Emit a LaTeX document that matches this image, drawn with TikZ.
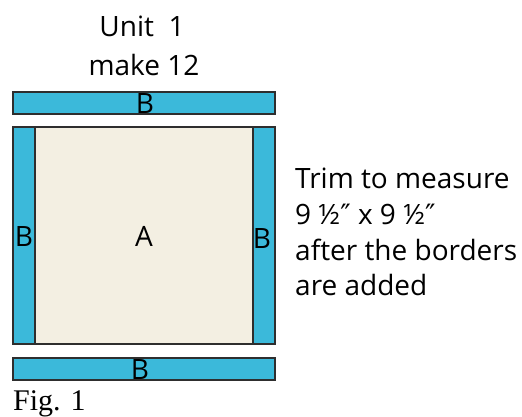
\documentclass[tikz,border=0pt]{standalone}
\usepackage{fontspec}
\setmainfont{Liberation Serif}
\newfontfamily\labfont{Open Sans}
\newfontfamily\symfont{DejaVu Sans}
\newcommand{\inchmark}{{\symfont\fontsize{28}{30}\selectfont ″}}
\definecolor{stripblue}{HTML}{3BB9DA}
\definecolor{beige}{HTML}{F3EFE2}
\definecolor{edge}{HTML}{2E2E2E}
\begin{document}
\begin{tikzpicture}[x=1pt,y=-1pt,
  stripbox/.style={fill=stripblue,draw=edge,line width=1.3pt},
  centerbox/.style={fill=beige,draw=edge,line width=1.3pt},
  lab/.style={font=\labfont\fontsize{28}{34}\selectfont,inner sep=0pt,anchor=base},
  notetext/.style={font=\labfont\fontsize{28}{34}\selectfont,inner sep=0pt,anchor=base west}]
\useasboundingbox (0,0) rectangle (522,417);
% pieces
\draw[stripbox] (13,92) rectangle (275,114);
\draw[centerbox] (35,127) rectangle (253,344);
\draw[stripbox] (13,127) rectangle (35,344);
\draw[stripbox] (253,127) rectangle (275,344);
\draw[stripbox] (13,358) rectangle (275,380);
% labels
\node[lab] (unit) at (142,37) {Unit\ \ 1};
\node[lab] (make) at (144,76) {make 12};
\node[lab] (btop) at (145,114) {B};
\node[lab] (a) at (144,246) {A};
\node[lab] (bleft) at (24,246) {B};
\node[lab] (bright) at (262,248) {B};
\node[lab] (bbot) at (140,379) {B};
\node[inner sep=0pt,anchor=base west,font=\fontsize{30}{36}\selectfont] (fig) at (13,410) {Fig. 1};
\node[notetext] (n1) at (295,188) {Trim to measure};
\node[notetext] (n2) at (295,224) {9 ½\inchmark\ x 9 ½\inchmark};
\node[notetext] (n3) at (295,260) {after the borders};
\node[notetext] (n4) at (295,295) {are added};
\end{tikzpicture}
\end{document}
